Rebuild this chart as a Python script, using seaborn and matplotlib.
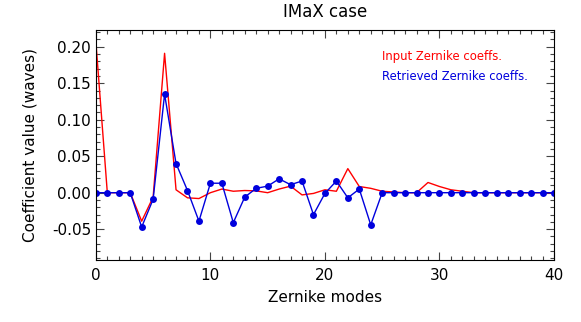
import numpy as np
import pandas as pd
import matplotlib
matplotlib.use("Agg")
import matplotlib.pyplot as plt
from matplotlib.ticker import MultipleLocator
import seaborn as sns

# Zernike mode index 0..40
modes = list(range(41))

# Input coefficients (red line)
input_coeffs = [0.207, 0.0, 0.0, 0.0, -0.039, -0.006, 0.191, 0.004, -0.007, -0.008,
                0.0, 0.005, 0.002, 0.003, 0.0025, 0.0, 0.005, 0.009, -0.003, -0.001,
                0.004, 0.002, 0.033, 0.0085, 0.006, 0.002, 0.001, 0.0, 0.0, 0.014,
                0.0085, 0.004, 0.002, 0.0, 0.0, 0.0, 0.0, 0.0, 0.0, 0.0, 0.0]

# Retrieved coefficients (blue line + dots)
retrieved_coeffs = [0.0, 0.0, 0.0, 0.0, -0.047, -0.009, 0.135, 0.040, 0.003, -0.039,
                    0.013, 0.013, -0.041, -0.006, 0.006, 0.009, 0.019, 0.011, 0.016, -0.030,
                    -0.001, 0.016, -0.007, 0.005, -0.044, 0.0, 0.0, 0.0, 0.0, 0.0,
                    0.0, 0.0, 0.0, 0.0, 0.0, 0.0, 0.0, 0.0, 0.0, 0.0, 0.0]

df = pd.DataFrame({"mode": modes, "input": input_coeffs, "retrieved": retrieved_coeffs})

sns.set_style("ticks")
plt.rcParams["font.family"] = ["DejaVu Sans"]
plt.rcParams["text.color"] = "black"
plt.rcParams["axes.labelcolor"] = "black"
plt.rcParams["xtick.color"] = "black"
plt.rcParams["ytick.color"] = "black"

fig = plt.figure(figsize=(5.81, 3.22), dpi=100)
ax = fig.add_axes([0.165, 0.193, 0.7885, 0.714])

sns.lineplot(data=df, x="mode", y="input", color="red", linewidth=1.0, ax=ax)
sns.lineplot(data=df, x="mode", y="retrieved", color="#0000dd", linewidth=1.0,
             marker="o", markersize=5, markeredgewidth=0, ax=ax)

ax.set_xlim(0, 40)
ax.set_ylim(-0.092, 0.223)
ax.xaxis.set_major_locator(MultipleLocator(10))
ax.xaxis.set_minor_locator(MultipleLocator(1))
ax.yaxis.set_major_locator(MultipleLocator(0.05))
ax.yaxis.set_minor_locator(MultipleLocator(0.01))
ax.yaxis.set_major_formatter(matplotlib.ticker.FormatStrFormatter("%.2f"))
ax.tick_params(which="both", direction="in", top=True, right=True, labelsize=11,
               color="#444444", labelcolor="black")
ax.tick_params(which="major", length=6, width=0.8)
ax.tick_params(which="minor", length=3, width=0.8)
ax.tick_params(axis="x", which="major", pad=6)
for s in ax.spines.values():
    s.set_linewidth(0.8)
    s.set_color("black")

ax.set_title("IMaX case", fontsize=12, pad=9)
ax.set_xlabel("Zernike modes", fontsize=11, labelpad=5)
ax.set_ylabel("Coefficient value (waves)", fontsize=11, labelpad=10)

ax.text(0.624, 0.883, "Input Zernike coeffs.", color="red", fontsize=8.4,
        transform=ax.transAxes, va="center")
ax.text(0.624, 0.796, "Retrieved Zernike coeffs.", color="#0000dd", fontsize=8.4,
        transform=ax.transAxes, va="center")

fig.savefig("out.png", dpi=100)
